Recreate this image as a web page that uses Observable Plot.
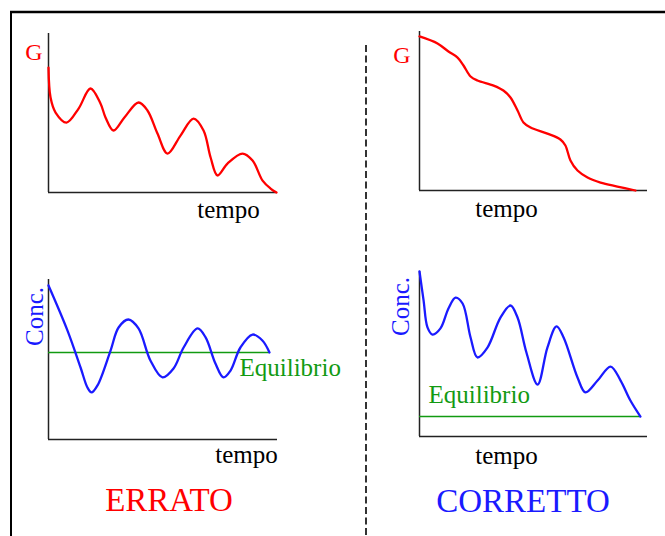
<!DOCTYPE html>
<html>
<head>
<meta charset="utf-8">
<script src="https://cdn.jsdelivr.net/npm/d3@7"></script>
<script src="https://cdn.jsdelivr.net/npm/@observablehq/plot@0.6"></script>
<style>
  html, body { margin: 0; padding: 0; background: #fff; }
  #wrap { position: relative; width: 665px; height: 536px; overflow: hidden; background: #fff; }
  #wrap > svg { position: absolute; overflow: visible; }
</style>
</head>
<body>
<div id="wrap"></div>
<script>
// ---- data (time 0–100, quantity 0–100 on each panel) ----
const gWrongT = [0, 0.9, 3.1, 7.9, 13.2, 18.4, 22.8, 25.0, 28.5, 33.3, 39.5, 43.4, 47.8, 52.2, 57.9, 63.6, 68.0, 71.1, 74.1, 78.5, 85.1, 89.5, 93.9, 97.4, 100];
const gWrongV = [78.6, 59.7, 50.3, 44.0, 52.8, 65.4, 56.0, 47.2, 39.0, 47.2, 56.6, 51.6, 37.1, 24.5, 35.8, 46.5, 39.0, 22.0, 10.7, 18.2, 24.5, 20.1, 7.5, 2.5, 0];

const gRightT = [0, 7.9, 12.7, 16.7, 19.3, 22.4, 25.4, 32.5, 36.8, 39.9, 43.0, 45.6, 48.7, 56.1, 61.8, 64.0, 66.2, 69.3, 73.7, 79.4, 86.8, 94.7];
const gRightV = [96.9, 92.5, 87.4, 83.6, 78.6, 71.7, 69.2, 66.0, 62.9, 58.5, 50.3, 42.8, 39.6, 35.8, 32.1, 28.3, 18.9, 12.6, 8.2, 5.0, 2.5, 0];

const cWrongT = [0, 8.3, 14.0, 17.0, 18.8, 21.4, 27.1, 30.6, 34.9, 39.3, 44.5, 49.8, 54.6, 59.0, 65.1, 68.6, 72.9, 76.4, 79.5, 83.8, 89.1, 93.4, 96.5];
const cWrongV = [96.3, 68.1, 45.0, 32.5, 29.4, 33.8, 55.6, 70.0, 75.0, 69.4, 49.4, 38.8, 44.4, 57.5, 69.4, 63.8, 47.5, 38.8, 43.1, 57.5, 65.6, 61.9, 54.4];
const eqWrong = 54.4, eqWrongEnd = 96.5;

const cRightT = [0, 1.8, 3.5, 5.7, 9.2, 12.7, 15.8, 18.9, 22.4, 25.4, 29.8, 35.5, 39.9, 43.0, 46.9, 51.8, 56.1, 60.1, 63.2, 69.3, 72.8, 78.1, 83.8, 88.2, 92.5, 96.9];
const cRightV = [100, 82.4, 66.1, 61.8, 65.5, 77.6, 84.2, 80.6, 60.0, 47.9, 53.9, 72.1, 79.4, 72.1, 50.9, 31.5, 53.9, 66.7, 60.0, 35.8, 26.7, 33.9, 42.4, 33.9, 21.8, 12.1];
const eqRight = 12.1, eqRightEnd = 96.9;

const labels = { g: "G", t: "tempo", c: "Conc.", eq: "Equilibrio", wrong: "ERRATO", right: "CORRETTO" };

// ---- styles ----
const RED = "#ff0000", BLUE = "#1a1aff", GREEN = "#129a12", AX = "#222";
const SERIF = "'Liberation Serif', 'Times New Roman', serif";

const pts = (T, V) => T.map((t, i) => ({ t, v: V[i] }));

function label(text, px, py, m, opts = {}) {
  return Plot.text([text], {
    frameAnchor: "top-left",
    dx: px - m.left, dy: py - m.top,
    text: d => d,
    lineAnchor: "bottom",
    fontFamily: SERIF,
    fontSize: 25,
    ...opts
  });
}

function panel(pos, m, curve, color, texts, eq) {
  const marks = [
    Plot.ruleX([0], { y1: 0, y2: 100, stroke: AX, strokeWidth: 1.5 }),
    Plot.ruleY([0], { x1: 0, x2: 100, stroke: AX, strokeWidth: 1.5 })
  ];
  if (eq) marks.push(Plot.ruleY([eq.v], { x1: 0, x2: eq.end, stroke: GREEN, strokeWidth: 1.6 }));
  marks.push(Plot.line(curve, { x: "t", y: "v", stroke: color, strokeWidth: 2.3, curve: "catmull-rom" }));
  for (const t of texts) marks.push(label(t.s, t.x, t.y, m, t.o));
  const svg = Plot.plot({
    width: pos.w, height: pos.h,
    marginLeft: m.left, marginTop: m.top, marginRight: pos.w - m.right, marginBottom: pos.h - m.bottom,
    x: { domain: [0, 100], axis: null },
    y: { domain: [0, 100], axis: null },
    style: { background: "transparent", overflow: "visible" },
    marks
  });
  svg.style.left = pos.x + "px";
  svg.style.top = pos.y + "px";
  return svg;
}

const wrap = document.getElementById("wrap");

// frame + divider
const ns = "http://www.w3.org/2000/svg";
const deco = document.createElementNS(ns, "svg");
deco.setAttribute("width", 665); deco.setAttribute("height", 536);
deco.style.left = "0px"; deco.style.top = "0px";
deco.innerHTML = `
  <line x1="10" y1="12" x2="665" y2="12" stroke="#000" stroke-width="2.5"/>
  <line x1="11" y1="11" x2="11" y2="536" stroke="#000" stroke-width="2"/>
  <line x1="366" y1="45" x2="366" y2="536" stroke="#333" stroke-width="2" stroke-dasharray="7,3.5"/>`;
wrap.appendChild(deco);

// top-left: G wrong
wrap.appendChild(panel({ x: 0, y: 0, w: 340, h: 240 }, { left: 48, top: 33, right: 276, bottom: 192 },
  pts(gWrongT, gWrongV), RED,
  [{ s: labels.g, x: 33.5, y: 59, o: { fill: RED, fontSize: 24, textAnchor: "middle" } },
   { s: labels.t, x: 228, y: 217, o: { fill: "#000", fontSize: 25, textAnchor: "middle" } }]));

// top-right: G correct
wrap.appendChild(panel({ x: 340, y: 0, w: 325, h: 240 }, { left: 79, top: 31, right: 307, bottom: 190 },
  pts(gRightT, gRightV), RED,
  [{ s: labels.g, x: 61.5, y: 62.5, o: { fill: RED, fontSize: 24, textAnchor: "middle" } },
   { s: labels.t, x: 166, y: 216, o: { fill: "#000", fontSize: 25, textAnchor: "middle" } }]));

// bottom-left: conc wrong
wrap.appendChild(panel({ x: 0, y: 240, w: 340, h: 296 }, { left: 48, top: 39, right: 277, bottom: 199 },
  pts(cWrongT, cWrongV), BLUE,
  [{ s: labels.c, x: 42, y: 76, o: { fill: BLUE, fontSize: 25, textAnchor: "middle", rotate: -90 } },
   { s: labels.eq, x: 239, y: 135, o: { fill: GREEN, fontSize: 25, textAnchor: "start" } },
   { s: labels.t, x: 246, y: 222.5, o: { fill: "#000", fontSize: 25, textAnchor: "middle" } },
   { s: labels.wrong, x: 168.5, y: 270, o: { fill: RED, fontSize: 33, textAnchor: "middle" } }],
  { v: eqWrong, end: eqWrongEnd }));

// bottom-right: conc correct
wrap.appendChild(panel({ x: 340, y: 240, w: 325, h: 296 }, { left: 79, top: 31, right: 307, bottom: 196 },
  pts(cRightT, cRightV), BLUE,
  [{ s: labels.c, x: 68, y: 66, o: { fill: BLUE, fontSize: 25, textAnchor: "middle", rotate: -90 } },
   { s: labels.eq, x: 88, y: 162.5, o: { fill: GREEN, fontSize: 25, textAnchor: "start" } },
   { s: labels.t, x: 166, y: 223, o: { fill: "#000", fontSize: 25, textAnchor: "middle" } },
   { s: labels.right, x: 182.5, y: 271, o: { fill: BLUE, fontSize: 33, textAnchor: "middle" } }],
  { v: eqRight, end: eqRightEnd }));
</script>
</body>
</html>
